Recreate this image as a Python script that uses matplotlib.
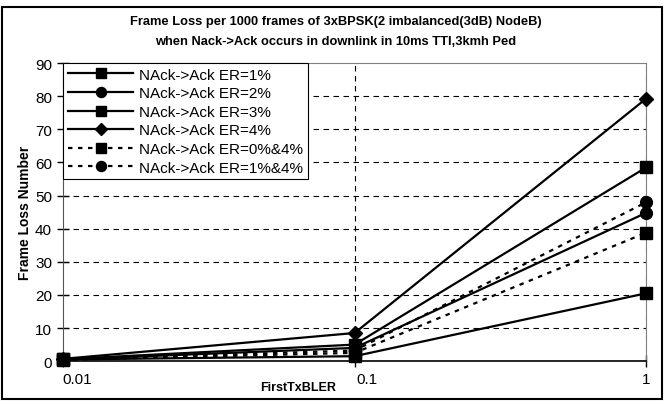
import matplotlib
matplotlib.use("Agg")
import matplotlib.pyplot as plt
import matplotlib.transforms as mtransforms
from matplotlib.patches import Rectangle

plt.rcParams['font.family'] = ['Liberation Sans', 'DejaVu Sans']

# FirstTxBLER points
bler = [0.01, 0.1, 1]
tick_labels = ['0.01', '0.1', '1']

er1 = [0.5, 1.5, 20.5]
er2 = [0.5, 4.0, 44.8]
er3 = [0.6, 5.0, 58.5]
er4 = [0.7, 8.5, 79.3]
er0_4 = [0.4, 2.5, 38.8]
er1_4 = [0.5, 3.2, 48.0]

series = [
    ('NAck->Ack ER=1%', er1, 's', '-'),
    ('NAck->Ack ER=2%', er2, 'o', '-'),
    ('NAck->Ack ER=3%', er3, 's', '-'),
    ('NAck->Ack ER=4%', er4, 'D', '-'),
    ('NAck->Ack ER=0%&4%', er0_4, 's', (0, (2, 2.5))),
    ('NAck->Ack ER=1%&4%', er1_4, 'o', (0, (2, 2.5))),
]

fig = plt.figure(figsize=(6.71, 4.06), dpi=100)
ax = fig.add_axes([0.094, 0.108, 0.869, 0.734])

for label, vals, mk, ls in series:
    ms = 7.5 if mk == 'D' else 8.5
    ax.plot(bler, vals, color='black', linestyle=ls, linewidth=1.6,
            marker=mk, markersize=ms, label=label, clip_on=False, zorder=3)

ax.set_xscale('log')
ax.set_xlim(0.01, 1)
ax.set_ylim(0, 90)
ax.set_xticks(bler)
ax.set_xticklabels(tick_labels)
ax.xaxis.set_minor_locator(matplotlib.ticker.NullLocator())
ax.set_yticks(range(0, 91, 10))
ax.tick_params(axis='both', direction='inout', length=8, width=1, labelsize=11, pad=4)

# Excel-style offset of the x tick labels
for lab, dx in zip(ax.get_xticklabels(), [14, 12, 0]):
    lab.set_transform(lab.get_transform() +
                      mtransforms.ScaledTranslation(dx / 100, 0, fig.dpi_scale_trans))

for y in range(10, 90, 10):
    ax.axhline(y, color='black', linestyle=(0, (5, 4)), linewidth=0.8, zorder=1)
ax.axvline(0.1, color='black', linestyle=(0, (5, 4)), linewidth=0.8, zorder=1)
ax.axvline(1, color='gray', linestyle=(0, (5, 4)), linewidth=0.8, zorder=1)

ax.spines['top'].set_color('gray')
ax.spines['right'].set_color('gray')
ax.spines['left'].set_color('#555555')
ax.spines['bottom'].set_color('black')
ax.spines['bottom'].set_linewidth(1.2)

ax.set_ylabel('Frame Loss Number', fontsize=10, fontweight='bold', labelpad=2)
fig.text(298 / 671, 1 - 388 / 406, 'FirstTxBLER', fontsize=9, fontweight='bold',
         ha='center', va='center')

fig.text(0.5, 1 - 22 / 406, 'Frame Loss per 1000 frames of 3xBPSK(2 imbalanced(3dB) NodeB)',
         fontsize=9.3, fontweight='bold', ha='center', va='center')
fig.text(0.5, 1 - 42 / 406, 'when Nack->Ack occurs in downlink in 10ms TTI,3kmh Ped',
         fontsize=9.3, fontweight='bold', ha='center', va='center')

leg = ax.legend(loc='upper left', bbox_to_anchor=(0, 1), borderaxespad=0,
                fancybox=False, edgecolor='black', framealpha=1, fontsize=11,
                handlelength=4.3, handletextpad=0.4, labelspacing=0.3,
                borderpad=0.3, markerscale=0.85)
leg.get_frame().set_linewidth(0.8)
leg.set_zorder(5)

fig.patches.append(Rectangle((2 / 671, 1 - 400 / 406), 660 / 671, 392 / 406,
                             transform=fig.transFigure, fill=False,
                             edgecolor='black', linewidth=1.5))

fig.savefig('out.png', dpi=100)
